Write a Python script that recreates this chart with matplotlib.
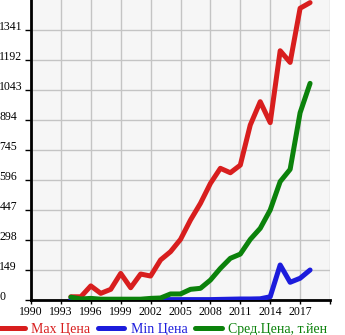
import matplotlib.pyplot as plt

years = list(range(1994, 2019))
max_price = [16, 16, 70, 33, 53, 132, 61, 129, 119, 199, 240, 301, 397, 480,
             579, 654, 632, 670, 869, 985, 881, 1238, 1180, 1449, 1477]
min_price = [3, 2, 2, 2, 2, 2, 2, 2, 2, 2, 2, 2, 2, 2,
             2, 3, 4, 5, 5, 6, 16, 174, 88, 108, 149]
avg_price = [14, 5, 8, 4, 4, 4, 4, 4, 8, 10, 30, 30, 53, 58,
             99, 157, 207, 228, 301, 356, 447, 588, 649, 930, 1076]

x_ticks = list(range(1990, 2021, 3))
x_labels = [str(y) for y in range(1990, 2018, 3)] + [""]
y_ticks = [149 * i for i in range(10)]

plt.rcParams['font.family'] = ['Liberation Serif', 'DejaVu Serif']

fig = plt.figure(figsize=(3.45, 3.35), dpi=100)
ax = fig.add_axes([31 / 345, 35 / 335, 299 / 345, 300 / 335])
ax.set_facecolor('#f6f6f6')

lw = 3.6
ax.plot(years, max_price, color='#d81e1e', lw=lw, solid_capstyle='round',
        solid_joinstyle='round', label='Max Цена', zorder=3)
ax.plot(years, min_price, color='#1c1cdc', lw=lw, solid_capstyle='round',
        solid_joinstyle='round', label='Min Цена', zorder=3)
ax.plot(years, avg_price, color='#0b820b', lw=lw, solid_capstyle='round',
        solid_joinstyle='round', label='Сред.Цена, т.йен', zorder=4)

ax.set_xlim(1990, 2020)
ax.set_ylim(0, 1490)
ax.set_xticks(x_ticks)
ax.set_xticklabels(x_labels, fontsize=8.5)
ax.set_yticks(y_ticks)
ax.set_yticklabels([str(v) for v in y_ticks], fontsize=8.5)
ax.grid(True, color='#c4c4c4', lw=1)
ax.set_axisbelow(True)

for side in ['top', 'right']:
    ax.spines[side].set_visible(False)
ax.spines['left'].set_linewidth(2)
ax.spines['bottom'].set_linewidth(2)

ax.tick_params(axis='x', length=3, width=1, pad=1)
ax.tick_params(axis='y', length=4, width=1, pad=18.8)
for lab in ax.get_yticklabels():
    lab.set_horizontalalignment('left')
    lab.set_verticalalignment('baseline')

leg = fig.legend(loc='lower left', bbox_to_anchor=(-0.04, -0.04), ncol=3,
                 frameon=False, fontsize=10, handlelength=1.9,
                 handletextpad=0.45, columnspacing=0.55, labelcolor='linecolor')

fig.savefig('out.png', dpi=100)
